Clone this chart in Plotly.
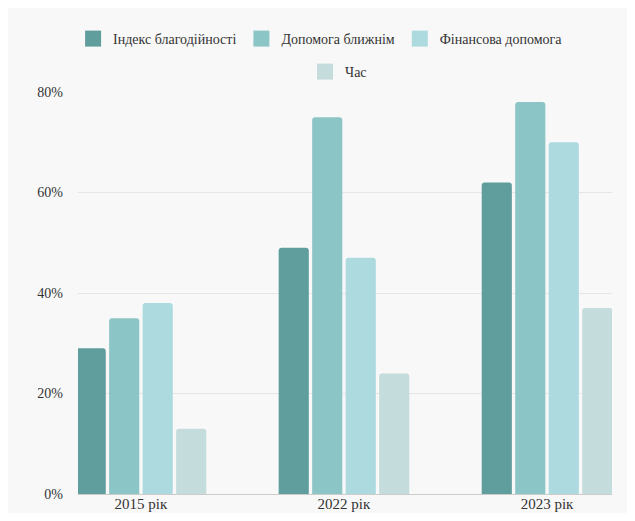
import plotly.graph_objects as go

categories = ["2015 рік", "2022 рік", "2023 рік"]
series_names = ["Індекс благодійності", "Допомога ближнім", "Фінансова допомога", "Час"]
index_vals = [29, 49, 62]
help_vals = [35, 75, 78]
finance_vals = [38, 47, 70]
time_vals = [13, 24, 37]
colors = ["#5f9e9c", "#8cc5c5", "#acdadf", "#c5dcdc"]
y_ticks = [0, 20, 40, 60, 80]
y_tick_labels = ["0%", "20%", "40%", "60%", "80%"]

FONT = "Liberation Serif"

fig = go.Figure()
legend_ids = ["legend", "legend", "legend", "legend2"]
for name, vals, col, lg in zip(series_names, [index_vals, help_vals, finance_vals, time_vals], colors, legend_ids):
    fig.add_trace(go.Bar(x=categories, y=vals, name=name, legendgroup=name, showlegend=False,
                         marker=dict(color=col, line=dict(width=0), cornerradius=3)))
    # legend swatch (larger square than the default bar legend symbol)
    fig.add_trace(go.Scatter(x=[None], y=[None], mode="markers", name=name, legendgroup=name,
                             legend=lg, marker=dict(symbol="square", size=16, color=col)))

leg_font = dict(family=FONT, size=14, color="#333333")
fig.update_layout(
    width=619, height=505,
    paper_bgcolor="#f8f8f8", plot_bgcolor="#f8f8f8",
    font=dict(family=FONT, size=14, color="#333333"),
    margin=dict(l=70, r=15, t=84, b=19),
    barmode="group", bargap=0.34, bargroupgap=0.1,
    legend=dict(orientation="h", x=0.505, xanchor="center", xref="container",
                y=1 - 31 / 505, yanchor="middle", yref="container",
                font=leg_font, traceorder="normal", itemsizing="trace"),
    legend2=dict(orientation="h", x=0.534, xanchor="center", xref="container",
                 y=1 - 64 / 505, yanchor="middle", yref="container",
                 font=leg_font, itemsizing="trace"),
    xaxis=dict(range=[-0.31, 2.32], showgrid=False, showline=True, linecolor="#cccccc",
               ticks="", tickfont=dict(family=FONT, size=15), automargin=False,
               ticklabelstandoff=-4),
    yaxis=dict(range=[0, 80], tickvals=y_ticks, ticktext=y_tick_labels, showgrid=True,
               gridcolor="#e6e6e6", zeroline=False, showline=False, ticks="",
               tickfont=dict(family=FONT, size=14), ticklabelstandoff=14, automargin=False),
)
fig.write_html("out.html")
